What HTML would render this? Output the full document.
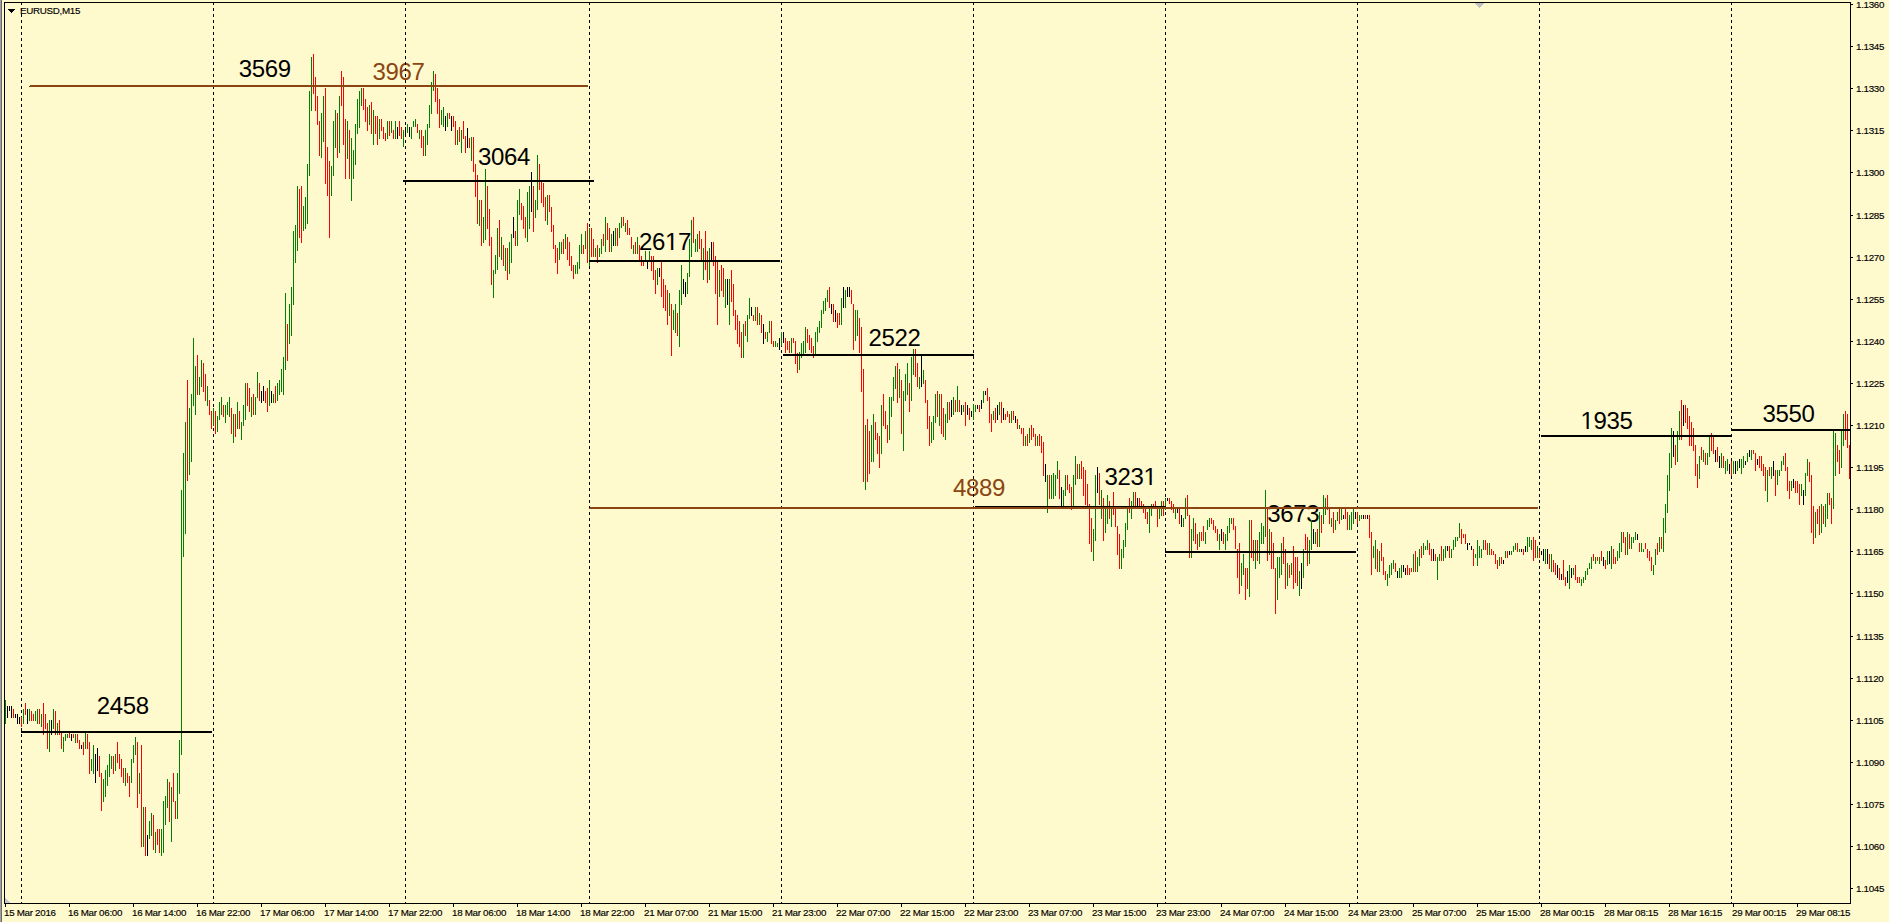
<!DOCTYPE html>
<html><head><meta charset="utf-8"><title>EURUSD,M15</title>
<style>
html,body{margin:0;padding:0;background:#FFFACD;}
body{width:1889px;height:922px;overflow:hidden;position:relative;}
svg{position:absolute;left:0;top:0;display:block;}
.ax{font-family:"Liberation Sans",Arial,sans-serif;font-size:9.8px;letter-spacing:-0.3px;fill:#000;stroke:#000;stroke-width:0.15px;}
.lb{font-family:"Liberation Sans",Arial,sans-serif;font-size:24px;letter-spacing:-0.34px;fill:#000;}
.lbb{font-family:"Liberation Sans",Arial,sans-serif;font-size:24px;letter-spacing:-0.34px;fill:#8B4513;}
</style></head><body>
<svg width="1889" height="922" viewBox="0 0 1889 922">
<rect x="0" y="0" width="1889" height="922" fill="#FFFACD"/>
<rect x="0" y="0" width="1" height="922" fill="#A0A0A0" shape-rendering="crispEdges"/>
<rect x="1" y="0" width="1" height="922" fill="#696969" shape-rendering="crispEdges"/>

<text class="lb" x="96.8" y="713.5">2458</text>
<text class="lb" x="238.8" y="77.4">3569</text>
<text class="lbb" x="372.5" y="79.5">3967</text>
<text class="lb" x="478.1" y="164.6">3064</text>
<text class="lb" x="638.9" y="249.6">2617</text>
<text class="lb" x="868.6" y="345.5">2522</text>
<text class="lbb" x="953.0" y="495.5">4889</text>
<text class="lb" x="1104.6" y="484.6">3231</text>
<text class="lb" x="1267.2" y="521.8">3673</text>
<text class="lb" x="1580.5" y="428.8">1935</text>
<text class="lb" x="1762.5" y="421.8">3550</text>
<rect x="1580" y="427" width="1" height="2" fill="#FFFACD" shape-rendering="crispEdges"/>
<rect x="1581" y="427" width="1" height="2" fill="#FFFACD" shape-rendering="crispEdges"/>
<rect x="1582" y="427" width="1" height="2" fill="#FFFACD" shape-rendering="crispEdges"/>
<rect x="1583" y="427" width="1" height="2" fill="#FFFACD" shape-rendering="crispEdges"/>
<rect x="1584" y="427" width="1" height="2" fill="#FFFACD" shape-rendering="crispEdges"/>
<rect x="1585" y="427" width="1" height="2" fill="#FFFAC6" shape-rendering="crispEdges"/>
<rect x="1586" y="427" width="1" height="2" fill="#CF8426" shape-rendering="crispEdges"/>
<rect x="1587" y="427" width="1" height="2" fill="#000000" shape-rendering="crispEdges"/>
<rect x="1588" y="427" width="1" height="2" fill="#174E86" shape-rendering="crispEdges"/>
<rect x="1589" y="427" width="1" height="2" fill="#E7FACD" shape-rendering="crispEdges"/>
<rect x="1590" y="427" width="1" height="2" fill="#FFFACD" shape-rendering="crispEdges"/>
<rect x="1591" y="427" width="1" height="2" fill="#FFFACD" shape-rendering="crispEdges"/>
<rect x="1592" y="427" width="1" height="2" fill="#FFFACD" shape-rendering="crispEdges"/>
<rect x="1593" y="427" width="1" height="2" fill="#FFFACD" shape-rendering="crispEdges"/>
<rect x="1594" y="427" width="1" height="2" fill="#FFFAB9" shape-rendering="crispEdges"/>
<rect x="1143" y="483" width="1" height="2" fill="#FFFACD" shape-rendering="crispEdges"/>
<rect x="1144" y="483" width="1" height="2" fill="#FFFACD" shape-rendering="crispEdges"/>
<rect x="1145" y="483" width="1" height="2" fill="#FFFACD" shape-rendering="crispEdges"/>
<rect x="1146" y="483" width="1" height="2" fill="#FFFACD" shape-rendering="crispEdges"/>
<rect x="1147" y="483" width="1" height="2" fill="#FFFACD" shape-rendering="crispEdges"/>
<rect x="1148" y="483" width="1" height="2" fill="#FFFAC6" shape-rendering="crispEdges"/>
<rect x="1149" y="483" width="1" height="2" fill="#CF8426" shape-rendering="crispEdges"/>
<rect x="1150" y="483" width="1" height="2" fill="#000000" shape-rendering="crispEdges"/>
<rect x="1151" y="483" width="1" height="2" fill="#174E86" shape-rendering="crispEdges"/>
<rect x="1152" y="483" width="1" height="2" fill="#E7FACD" shape-rendering="crispEdges"/>
<rect x="1153" y="483" width="1" height="2" fill="#FFFACD" shape-rendering="crispEdges"/>
<rect x="1154" y="483" width="1" height="2" fill="#FFFACD" shape-rendering="crispEdges"/>
<rect x="1155" y="483" width="1" height="2" fill="#FFFACD" shape-rendering="crispEdges"/>
<rect x="1156" y="483" width="1" height="2" fill="#FFFACD" shape-rendering="crispEdges"/>
<rect x="1157" y="483" width="1" height="2" fill="#FFFACD" shape-rendering="crispEdges"/>
<rect x="664" y="248" width="1" height="2" fill="#EFFACD" shape-rendering="crispEdges"/>
<rect x="665" y="248" width="1" height="2" fill="#FFFACD" shape-rendering="crispEdges"/>
<rect x="666" y="248" width="1" height="2" fill="#FFFACD" shape-rendering="crispEdges"/>
<rect x="667" y="248" width="1" height="2" fill="#FFFACD" shape-rendering="crispEdges"/>
<rect x="668" y="248" width="1" height="2" fill="#FFFACD" shape-rendering="crispEdges"/>
<rect x="669" y="248" width="1" height="2" fill="#FFFACD" shape-rendering="crispEdges"/>
<rect x="670" y="248" width="1" height="2" fill="#FFE28C" shape-rendering="crispEdges"/>
<rect x="671" y="248" width="1" height="2" fill="#571700" shape-rendering="crispEdges"/>
<rect x="672" y="248" width="1" height="2" fill="#000026" shape-rendering="crispEdges"/>
<rect x="673" y="248" width="1" height="2" fill="#77C3C6" shape-rendering="crispEdges"/>
<rect x="674" y="248" width="1" height="2" fill="#FFFACD" shape-rendering="crispEdges"/>
<rect x="675" y="248" width="1" height="2" fill="#FFFACD" shape-rendering="crispEdges"/>
<rect x="676" y="248" width="1" height="2" fill="#FFFACD" shape-rendering="crispEdges"/>
<rect x="677" y="248" width="1" height="2" fill="#FFFACD" shape-rendering="crispEdges"/>
<rect x="678" y="248" width="1" height="2" fill="#FFFACD" shape-rendering="crispEdges"/>
<rect x="679" y="248" width="1" height="2" fill="#FFFACD" shape-rendering="crispEdges"/>
<path d="M21.5 2V903M213.5 2V903M405.5 2V903M589.5 2V903M781.5 2V903M973.5 2V903M1165.5 2V903M1357.5 2V903M1539.5 2V903M1731.5 2V903" stroke="#000" stroke-width="1" stroke-dasharray="3 3" fill="none" shape-rendering="crispEdges"/>
<path d="M5.5 700v24M23.5 709v15M29.5 709v12M35.5 711v10M37.5 709v15M41.5 714v13M49.5 720v32M53.5 709v20M57.5 723v12M63.5 737v15M65.5 734v7M67.5 734v4M75.5 734v9M85.5 733v16M91.5 759v12M93.5 745v29M103.5 779v23M105.5 770v27M107.5 765v21M109.5 754v23M111.5 756v13M115.5 754v17M125.5 768v18M131.5 759v24M133.5 745v18M135.5 737v18M139.5 773v21M143.5 807v40M149.5 821v18M151.5 813v23M155.5 832v21M161.5 829v27M163.5 801v52M165.5 796v29M167.5 779v29M171.5 787v55M177.5 773v46M179.5 740v54M181.5 490v265M183.5 453v104M185.5 422v112M189.5 408v67M191.5 394v68M193.5 338v68M195.5 366v49M199.5 377v18M201.5 360v27M207.5 386v20M213.5 408v18M217.5 416v16M219.5 402v18M221.5 397v18M225.5 405v18M227.5 402v13M229.5 397v20M233.5 414v29M237.5 402v27M241.5 422v18M243.5 405v21M245.5 383v37M251.5 397v20M255.5 397v18M257.5 372v26M269.5 380v26M273.5 394v9M277.5 383v18M279.5 380v15M281.5 369v23M283.5 357v38M285.5 293v77M289.5 304v40M291.5 287v49M293.5 231v74M295.5 225v38M297.5 186v65M303.5 206v25M305.5 197v32M307.5 164v60M309.5 91v85M311.5 57v54M321.5 113v45M323.5 96v46M331.5 166v30M333.5 121v55M335.5 110v38M339.5 96v57M347.5 121v38M351.5 138v63M353.5 150v29M355.5 124v41M357.5 99v35M359.5 91v37M361.5 88v18M369.5 105v20M373.5 110v35M379.5 119v20M387.5 121v18M391.5 121v12M395.5 121v18M403.5 130v17M407.5 124v9M411.5 127v12M413.5 121v6M415.5 119v8M419.5 130v9M425.5 130v26M427.5 124v21M429.5 105v23M431.5 82v32M433.5 71v20M441.5 110v15M443.5 107v20M447.5 113v14M457.5 130v15M461.5 130v23M471.5 137v24M479.5 200v26M483.5 217v26M485.5 169v71M493.5 270v28M495.5 255v19M497.5 228v42M501.5 237v23M505.5 248v23M509.5 242v32M511.5 234v29M517.5 200v46M519.5 189v26M527.5 192v50M529.5 186v43M535.5 200v18M537.5 155v55M547.5 195v30M559.5 242v18M561.5 242v12M565.5 234v15M575.5 265v9M577.5 262v12M579.5 245v24M581.5 234v20M585.5 231v18M589.5 228v38M595.5 248v9M599.5 248v9M601.5 239v15M605.5 217v35M611.5 234v18M615.5 228v18M619.5 223v15M621.5 217v11M625.5 223v9M633.5 245v9M637.5 237v17M645.5 251v11M649.5 251v11M657.5 268v17M669.5 293v23M673.5 310v20M675.5 304v29M679.5 290v57M681.5 265v40M687.5 273v21M689.5 239v38M691.5 220v37M695.5 239v13M697.5 234v18M703.5 248v32M709.5 248v32M719.5 270v27M725.5 279v29M729.5 279v46M743.5 324v34M747.5 315v27M749.5 298v21M755.5 307v14M759.5 313v12M767.5 332v10M769.5 321v12M775.5 341v6M777.5 343v4M781.5 332v14M791.5 338v15M799.5 352v18M801.5 343v15M803.5 341v14M805.5 327v26M815.5 332v23M817.5 327v15M819.5 321v12M821.5 310v18M823.5 301v13M825.5 298v13M827.5 290v12M841.5 298v27M845.5 290v18M855.5 310v31M857.5 310v26M865.5 425v65M871.5 425v37M873.5 414v48M881.5 405v49M889.5 397v43M891.5 397v20M893.5 377v24M895.5 366v23M899.5 369v29M903.5 391v60M905.5 374v27M907.5 363v32M911.5 357v44M913.5 349v26M919.5 377v12M923.5 370v14M931.5 422v21M933.5 416v24M935.5 394v29M939.5 394v32M945.5 414v26M947.5 402v21M953.5 397v18M957.5 386v26M963.5 405v7M973.5 404v16M975.5 405v7M983.5 391v12M993.5 411v9M999.5 402v13M1011.5 411v12M1019.5 425v4M1025.5 436v10M1029.5 428v15M1037.5 436v10M1047.5 475v38M1051.5 475v24M1053.5 473v26M1055.5 475v21M1057.5 461v18M1063.5 490v16M1065.5 475v21M1073.5 475v31M1075.5 456v29M1079.5 464v15M1093.5 529v32M1095.5 475v66M1101.5 490v29M1105.5 509v24M1107.5 495v29M1111.5 507v20M1121.5 549v20M1123.5 540v18M1125.5 523v24M1127.5 507v23M1131.5 501v18M1133.5 492v15M1149.5 509v24M1151.5 504v12M1159.5 507v12M1161.5 501v15M1165.5 498v12M1175.5 507v12M1183.5 518v9M1185.5 498v21M1191.5 529v29M1193.5 518v23M1199.5 532v15M1205.5 532v12M1207.5 520v10M1209.5 518v9M1219.5 534v16M1225.5 534v16M1227.5 526v15M1229.5 518v15M1231.5 518v6M1241.5 563v23M1243.5 554v21M1249.5 520v77M1255.5 540v29M1259.5 532v32M1261.5 523v21M1263.5 526v18M1265.5 490v47M1269.5 529v26M1277.5 557v43M1279.5 557v21M1281.5 543v32M1287.5 563v23M1291.5 563v12M1299.5 571v25M1303.5 549v29M1309.5 540v24M1311.5 520v30M1315.5 532v12M1319.5 512v35M1323.5 495v29M1325.5 498v17M1331.5 518v9M1335.5 520v10M1337.5 512v9M1341.5 509v11M1349.5 515v15M1351.5 512v18M1353.5 509v15M1359.5 515v6M1361.5 515v4M1373.5 546v12M1375.5 540v29M1379.5 551v21M1387.5 574v12M1389.5 565v13M1391.5 563v12M1393.5 560v9M1399.5 568v10M1401.5 565v13M1413.5 554v18M1417.5 557v15M1419.5 549v17M1423.5 543v12M1425.5 546v4M1427.5 540v10M1437.5 557v23M1439.5 554v7M1443.5 549v12M1445.5 546v12M1451.5 549v9M1453.5 540v10M1455.5 537v10M1457.5 537v4M1459.5 523v15M1475.5 554v4M1477.5 540v26M1479.5 546v12M1481.5 549v9M1483.5 540v10M1489.5 543v12M1499.5 557v9M1505.5 551v7M1511.5 551v4M1513.5 546v6M1515.5 543v7M1519.5 549v3M1527.5 537v15M1529.5 537v10M1531.5 540v10M1537.5 546v12M1545.5 549v15M1551.5 554v18M1569.5 565v24M1573.5 568v7M1581.5 579v7M1583.5 577v6M1585.5 571v9M1587.5 568v7M1589.5 563v6M1591.5 557v12M1595.5 557v7M1599.5 557v7M1607.5 551v14M1611.5 546v23M1617.5 551v10M1619.5 543v15M1621.5 532v20M1627.5 532v23M1631.5 537v12M1633.5 537v6M1635.5 532v8M1641.5 543v9M1643.5 549v3M1653.5 565v10M1655.5 549v16M1659.5 537v15M1663.5 518v34M1665.5 504v29M1667.5 475v38M1669.5 453v38M1671.5 428v40M1677.5 431v31M1679.5 411v29M1699.5 456v23M1703.5 450v12M1707.5 453v12M1709.5 436v21M1721.5 453v15M1725.5 461v13M1727.5 459v12M1733.5 461v13M1737.5 461v10M1741.5 459v15M1743.5 456v12M1747.5 453v9M1751.5 450v10M1767.5 470v32M1771.5 467v12M1777.5 470v15M1779.5 470v6M1781.5 461v10M1783.5 456v9M1791.5 481v10M1801.5 484v12M1805.5 473v23M1807.5 459v17M1815.5 512v26M1821.5 504v29M1825.5 504v23M1827.5 493v26M1833.5 431v78M1835.5 433v43M1841.5 431v37M1843.5 414v32" stroke="#008000" stroke-width="1" fill="none" shape-rendering="crispEdges"/>
<path d="M13.5 709v9M21.5 717v10M25.5 703v12M31.5 711v10M33.5 714v7M39.5 709v15M43.5 703v32M45.5 714v15M47.5 723v26M55.5 711v24M59.5 720v15M61.5 732v17M69.5 733v5M73.5 734v4M77.5 734v9M79.5 740v9M83.5 742v13M87.5 734v15M89.5 742v32M99.5 756v21M101.5 773v38M113.5 756v18M117.5 742v21M119.5 754v15M121.5 759v18M123.5 768v15M127.5 773v10M129.5 776v21M137.5 742v66M141.5 745v102M145.5 807v49M153.5 815v35M157.5 829v16M159.5 829v24M169.5 782v40M173.5 773v29M175.5 801v18M187.5 380v101M197.5 355v40M203.5 363v29M205.5 374v27M209.5 400v15M211.5 411v18M215.5 411v23M223.5 405v12M231.5 408v26M235.5 414v23M239.5 411v18M247.5 383v23M249.5 388v24M253.5 394v21M259.5 383v18M265.5 391v12M267.5 388v24M275.5 386v17M287.5 324v37M299.5 189v49M301.5 186v57M313.5 54v40M315.5 77v34M317.5 96v29M319.5 121v35M325.5 88v96M327.5 147v49M329.5 161v77M337.5 113v45M341.5 71v35M343.5 77v68M345.5 119v60M349.5 130v49M363.5 88v22M365.5 99v23M367.5 107v24M371.5 102v32M375.5 116v18M377.5 116v29M381.5 119v12M383.5 127v12M385.5 133v8M389.5 121v15M393.5 130v9M399.5 121v15M401.5 127v12M417.5 124v9M421.5 130v18M423.5 136v20M435.5 74v28M437.5 88v26M439.5 99v29M449.5 113v6M453.5 116v11M455.5 121v24M459.5 127v15M463.5 121v18M465.5 136v17M469.5 138v10M473.5 137v35M475.5 164v33M477.5 175v49M481.5 200v46M487.5 186v43M489.5 209v37M491.5 237v48M499.5 220v37M503.5 245v21M507.5 248v32M515.5 231v15M521.5 203v17M523.5 206v23M525.5 217v21M533.5 186v46M539.5 164v26M541.5 181v22M543.5 183v24M545.5 197v24M549.5 195v17M551.5 207v25M553.5 225v24M555.5 245v18M557.5 248v26M563.5 239v15M567.5 237v23M569.5 242v24M571.5 256v15M573.5 265v14M583.5 245v9M587.5 223v40M591.5 228v29M593.5 239v18M597.5 245v18M603.5 234v12M607.5 223v17M609.5 228v24M617.5 228v18M623.5 217v9M627.5 220v15M629.5 228v7M631.5 237v12M635.5 242v12M639.5 245v15M641.5 256v10M643.5 260v6M651.5 256v15M653.5 256v24M655.5 270v24M661.5 262v35M663.5 279v29M665.5 285v26M667.5 290v35M671.5 304v52M677.5 313v23M693.5 217v26M699.5 231v18M701.5 239v23M705.5 231v39M707.5 251v32M713.5 242v24M715.5 256v38M717.5 261v64M721.5 265v26M723.5 268v29M731.5 270v32M733.5 284v32M735.5 310v20M737.5 315v29M739.5 321v26M741.5 332v26M745.5 321v15M753.5 315v6M757.5 307v18M761.5 315v18M765.5 332v7M771.5 321v23M773.5 341v6M785.5 338v15M787.5 341v9M789.5 341v12M793.5 338v5M795.5 341v23M797.5 353v20M807.5 329v14M809.5 335v15M811.5 338v15M813.5 346v12M829.5 287v21M833.5 304v18M837.5 313v15M839.5 313v12M851.5 290v14M853.5 304v46M859.5 318v35M861.5 327v65M863.5 369v113M867.5 419v63M869.5 431v43M875.5 422v18M877.5 433v21M879.5 436v32M883.5 394v32M885.5 411v18M887.5 425v18M897.5 363v40M901.5 380v54M909.5 383v29M915.5 349v28M917.5 363v24M925.5 380v23M927.5 400v29M929.5 416v30M937.5 391v26M941.5 394v40M943.5 408v29M949.5 402v18M955.5 400v12M959.5 400v12M965.5 402v24M969.5 408v12M979.5 405v7M987.5 388v13M989.5 397v26M991.5 414v18M995.5 408v15M1001.5 402v21M1005.5 414v6M1007.5 411v6M1009.5 414v9M1013.5 411v9M1017.5 419v10M1021.5 428v6M1023.5 428v18M1027.5 434v12M1031.5 425v15M1033.5 428v9M1035.5 434v12M1039.5 434v12M1041.5 436v17M1043.5 442v34M1049.5 475v24M1059.5 470v29M1067.5 475v15M1069.5 484v9M1071.5 487v23M1077.5 464v15M1081.5 461v18M1083.5 467v29M1085.5 470v35M1087.5 484v22M1089.5 504v40M1091.5 518v34M1099.5 473v32M1103.5 498v43M1109.5 501v18M1113.5 492v23M1115.5 507v20M1117.5 526v29M1119.5 534v35M1129.5 498v15M1135.5 492v14M1139.5 498v9M1141.5 501v8M1143.5 504v9M1145.5 507v12M1147.5 512v12M1153.5 504v3M1155.5 501v8M1157.5 507v20M1163.5 501v15M1169.5 498v6M1171.5 501v9M1173.5 504v9M1179.5 509v15M1187.5 495v21M1189.5 515v43M1195.5 523v21M1197.5 534v16M1201.5 532v9M1203.5 526v15M1211.5 518v6M1213.5 520v10M1215.5 526v7M1217.5 529v12M1223.5 532v12M1233.5 518v12M1235.5 526v23M1237.5 549v29M1239.5 543v51M1245.5 568v32M1247.5 568v21M1251.5 520v38M1253.5 540v21M1257.5 540v21M1267.5 508v53M1271.5 532v37M1273.5 543v26M1275.5 568v46M1283.5 537v27M1285.5 549v40M1289.5 565v13M1293.5 546v43M1295.5 557v26M1297.5 557v29M1305.5 534v16M1307.5 537v29M1317.5 529v18M1321.5 515v18M1327.5 495v15M1329.5 507v17M1333.5 512v21M1339.5 509v15M1345.5 509v10M1347.5 512v18M1357.5 512v12M1365.5 515v4M1369.5 515v23M1371.5 532v43M1377.5 549v23M1381.5 543v18M1383.5 557v18M1385.5 571v9M1395.5 563v9M1407.5 565v10M1409.5 568v7M1411.5 568v4M1415.5 551v21M1421.5 546v12M1429.5 543v12M1431.5 549v12M1435.5 554v7M1441.5 546v15M1449.5 546v12M1461.5 529v15M1463.5 534v4M1465.5 534v10M1473.5 549v17M1485.5 540v10M1487.5 543v12M1491.5 549v6M1493.5 551v4M1495.5 554v10M1497.5 560v9M1501.5 557v7M1507.5 551v7M1517.5 543v9M1523.5 549v6M1533.5 537v24M1535.5 540v18M1539.5 551v7M1549.5 554v15M1553.5 560v12M1555.5 563v12M1559.5 568v12M1563.5 560v20M1565.5 577v9M1575.5 565v15M1577.5 577v6M1579.5 577v6M1593.5 554v7M1597.5 557v4M1601.5 551v10M1605.5 560v9M1613.5 549v15M1615.5 557v7M1623.5 532v11M1625.5 537v18M1629.5 534v15M1639.5 543v9M1645.5 543v6M1647.5 549v9M1649.5 551v10M1651.5 557v14M1657.5 543v12M1661.5 537v12M1675.5 445v20M1681.5 400v40M1685.5 405v18M1687.5 408v21M1689.5 416v30M1691.5 422v24M1693.5 428v23M1695.5 445v31M1697.5 464v24M1701.5 447v13M1705.5 453v12M1711.5 433v18M1713.5 436v18M1717.5 447v15M1723.5 456v12M1731.5 461v15M1753.5 450v4M1755.5 453v18M1759.5 456v12M1761.5 456v15M1763.5 464v12M1765.5 467v24M1769.5 467v9M1775.5 470v26M1785.5 453v18M1787.5 467v24M1789.5 481v18M1795.5 481v12M1797.5 481v12M1799.5 484v21M1809.5 462v20M1811.5 475v58M1813.5 506v38M1817.5 509v15M1819.5 506v29M1823.5 506v18M1829.5 493v12M1831.5 498v26M1837.5 445v17M1839.5 450v24M1845.5 411v29M1847.5 414v34M1849.5 445v34" stroke="#FF0000" stroke-width="1" fill="none" shape-rendering="crispEdges"/>
<path d="M7.5 706v12M9.5 706v5M11.5 706v12M15.5 714v4M17.5 714v10M19.5 717v7M27.5 709v15M51.5 720v15M71.5 734v7M81.5 745v4M95.5 754v29M97.5 748v23M147.5 835v21M261.5 391v12M263.5 386v15M271.5 391v12M397.5 127v12M405.5 127v9M409.5 127v10M445.5 116v15M451.5 116v15M467.5 128v20M513.5 217v21M531.5 172v40M613.5 231v15M647.5 260v9M659.5 268v9M683.5 279v15M685.5 282v15M711.5 242v20M727.5 279v26M751.5 307v9M763.5 324v20M779.5 338v12M783.5 332v11M831.5 304v10M835.5 310v12M843.5 287v21M847.5 287v10M849.5 287v10M921.5 355v32M951.5 400v17M961.5 405v10M967.5 405v10M971.5 411v6M977.5 405v4M981.5 400v9M985.5 391v4M997.5 405v15M1003.5 408v12M1015.5 416v7M1045.5 464v18M1061.5 487v19M1097.5 467v26M1137.5 498v11M1167.5 498v3M1177.5 509v4M1181.5 515v12M1221.5 529v12M1301.5 563v26M1313.5 529v15M1343.5 515v4M1355.5 512v7M1363.5 515v4M1367.5 515v4M1397.5 571v7M1403.5 565v7M1405.5 568v7M1433.5 549v12M1447.5 546v5M1467.5 543v7M1469.5 543v2M1471.5 546v4M1503.5 560v4M1509.5 551v4M1521.5 549v3M1525.5 546v6M1541.5 551v4M1543.5 549v12M1547.5 549v15M1557.5 565v13M1561.5 574v6M1567.5 571v12M1571.5 568v10M1603.5 557v9M1609.5 551v13M1637.5 534v6M1673.5 431v26M1683.5 405v21M1715.5 450v12M1719.5 456v12M1729.5 464v10M1735.5 461v13M1739.5 459v9M1745.5 461v4M1749.5 450v7M1757.5 459v6M1773.5 461v15M1793.5 479v9M1803.5 490v15" stroke="#000" stroke-width="1" fill="none" shape-rendering="crispEdges"/>
<rect x="21" y="731" width="191" height="2" fill="#000" shape-rendering="crispEdges"/>
<rect x="403" y="180" width="191" height="2" fill="#000" shape-rendering="crispEdges"/>
<rect x="589" y="260" width="191" height="2" fill="#000" shape-rendering="crispEdges"/>
<rect x="783" y="354" width="191" height="2" fill="#000" shape-rendering="crispEdges"/>
<rect x="975" y="506" width="191" height="2" fill="#000" shape-rendering="crispEdges"/>
<rect x="1165" y="551" width="191" height="2" fill="#000" shape-rendering="crispEdges"/>
<rect x="1541" y="435" width="191" height="2" fill="#000" shape-rendering="crispEdges"/>
<rect x="1731" y="429" width="119" height="2" fill="#000" shape-rendering="crispEdges"/>
<rect x="30" y="85" width="558" height="2" fill="#8B4513" shape-rendering="crispEdges"/>
<rect x="29" y="86" width="1" height="1" fill="#8B4513" shape-rendering="crispEdges"/>
<rect x="590" y="507" width="948" height="2" fill="#8B4513" shape-rendering="crispEdges"/>
<rect x="589" y="508" width="1" height="1" fill="#8B4513" shape-rendering="crispEdges"/>
<path d="M4.5 2V903.5M4 2.5H1851M1850.5 2V904M4 903.5H1851" stroke="#000" stroke-width="1" fill="none" shape-rendering="crispEdges"/>
<text class="ax" x="1856" y="8">1.1360</text>
<text class="ax" x="1856" y="50">1.1345</text>
<text class="ax" x="1856" y="92">1.1330</text>
<text class="ax" x="1856" y="134">1.1315</text>
<text class="ax" x="1856" y="176">1.1300</text>
<text class="ax" x="1856" y="219">1.1285</text>
<text class="ax" x="1856" y="261">1.1270</text>
<text class="ax" x="1856" y="303">1.1255</text>
<text class="ax" x="1856" y="345">1.1240</text>
<text class="ax" x="1856" y="387">1.1225</text>
<text class="ax" x="1856" y="429">1.1210</text>
<text class="ax" x="1856" y="471">1.1195</text>
<text class="ax" x="1856" y="513">1.1180</text>
<text class="ax" x="1856" y="555">1.1165</text>
<text class="ax" x="1856" y="597">1.1150</text>
<text class="ax" x="1856" y="640">1.1135</text>
<text class="ax" x="1856" y="682">1.1120</text>
<text class="ax" x="1856" y="724">1.1105</text>
<text class="ax" x="1856" y="766">1.1090</text>
<text class="ax" x="1856" y="808">1.1075</text>
<text class="ax" x="1856" y="850">1.1060</text>
<text class="ax" x="1856" y="892">1.1045</text>
<path d="M1851 4.5h2M1851 46.5h2M1851 88.5h2M1851 130.5h2M1851 172.5h2M1851 215.5h2M1851 257.5h2M1851 299.5h2M1851 341.5h2M1851 383.5h2M1851 425.5h2M1851 467.5h2M1851 509.5h2M1851 551.5h2M1851 593.5h2M1851 636.5h2M1851 678.5h2M1851 720.5h2M1851 762.5h2M1851 804.5h2M1851 846.5h2M1851 888.5h2" stroke="#000" stroke-width="1" fill="none" shape-rendering="crispEdges"/>
<text class="ax" x="4" y="916">15 Mar 2016</text>
<text class="ax" x="68" y="916">16 Mar 06:00</text>
<text class="ax" x="132" y="916">16 Mar 14:00</text>
<text class="ax" x="196" y="916">16 Mar 22:00</text>
<text class="ax" x="260" y="916">17 Mar 06:00</text>
<text class="ax" x="324" y="916">17 Mar 14:00</text>
<text class="ax" x="388" y="916">17 Mar 22:00</text>
<text class="ax" x="452" y="916">18 Mar 06:00</text>
<text class="ax" x="516" y="916">18 Mar 14:00</text>
<text class="ax" x="580" y="916">18 Mar 22:00</text>
<text class="ax" x="644" y="916">21 Mar 07:00</text>
<text class="ax" x="708" y="916">21 Mar 15:00</text>
<text class="ax" x="772" y="916">21 Mar 23:00</text>
<text class="ax" x="836" y="916">22 Mar 07:00</text>
<text class="ax" x="900" y="916">22 Mar 15:00</text>
<text class="ax" x="964" y="916">22 Mar 23:00</text>
<text class="ax" x="1028" y="916">23 Mar 07:00</text>
<text class="ax" x="1092" y="916">23 Mar 15:00</text>
<text class="ax" x="1156" y="916">23 Mar 23:00</text>
<text class="ax" x="1220" y="916">24 Mar 07:00</text>
<text class="ax" x="1284" y="916">24 Mar 15:00</text>
<text class="ax" x="1348" y="916">24 Mar 23:00</text>
<text class="ax" x="1412" y="916">25 Mar 07:00</text>
<text class="ax" x="1476" y="916">25 Mar 15:00</text>
<text class="ax" x="1540" y="916">28 Mar 00:15</text>
<text class="ax" x="1604" y="916">28 Mar 08:15</text>
<text class="ax" x="1668" y="916">28 Mar 16:15</text>
<text class="ax" x="1732" y="916">29 Mar 00:15</text>
<text class="ax" x="1796" y="916">29 Mar 08:15</text>
<path d="M5.5 904v3M69.5 904v3M133.5 904v3M197.5 904v3M261.5 904v3M325.5 904v3M389.5 904v3M453.5 904v3M517.5 904v3M581.5 904v3M645.5 904v3M709.5 904v3M773.5 904v3M837.5 904v3M901.5 904v3M965.5 904v3M1029.5 904v3M1093.5 904v3M1157.5 904v3M1221.5 904v3M1285.5 904v3M1349.5 904v3M1413.5 904v3M1477.5 904v3M1541.5 904v3M1605.5 904v3M1669.5 904v3M1733.5 904v3M1797.5 904v3" stroke="#000" stroke-width="1" fill="none" shape-rendering="crispEdges"/>
<path d="M8 9h7v1h-1v1h-1v1h-1v1h-1v-1h-1v-1h-1v-1h-1z" fill="#000" shape-rendering="crispEdges"/>
<text x="20" y="14" class="ax">EURUSD,M15</text>
<path d="M1475 3h9v1h-1v1h-1v1h-1v1h-1v1h-1v-1h-1v-1h-1v-1h-1v-1h-1z" fill="#C0C0C0" shape-rendering="crispEdges"/>
<path d="M5 898h1v1h1v1h1v1h1v1h1v1h-5z" fill="#C6C6CC" shape-rendering="crispEdges"/>
</svg></body></html>
